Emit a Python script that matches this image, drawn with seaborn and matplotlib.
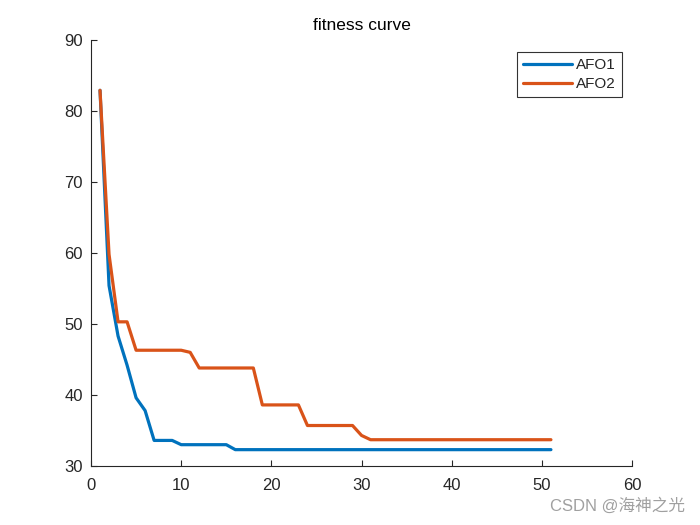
import matplotlib
matplotlib.use("Agg")
import matplotlib.pyplot as plt
import seaborn as sns
import pandas as pd
import numpy as np

iterations = list(range(1, 52))
afo1 = [82.9, 55.4, 48.3, 44.2, 39.6, 37.8, 33.6, 33.6, 33.6, 33.0,
        33.0, 33.0, 33.0, 33.0, 33.0] + [32.3] * 36
afo2 = [82.9, 59.8, 50.3, 50.3, 46.3, 46.3, 46.3, 46.3, 46.3, 46.3,
        46.0, 43.8, 43.8, 43.8, 43.8, 43.8, 43.8, 43.8, 38.6, 38.6,
        38.6, 38.6, 38.6, 35.7, 35.7, 35.7, 35.7, 35.7, 35.7, 34.3] + [33.7] * 21
series_names = ["AFO1", "AFO2"]
colors = ["#0072BD", "#D95319"]
xticks = [0, 10, 20, 30, 40, 50, 60]
yticks = [30, 40, 50, 60, 70, 80, 90]

df = pd.DataFrame({
    "iter": iterations * 2,
    "fitness": afo1 + afo2,
    "algo": [series_names[0]] * len(afo1) + [series_names[1]] * len(afo2),
})

sns.set_style("white")
plt.rcParams["font.family"] = ["Liberation Sans", "DejaVu Sans"]

fig = plt.figure(figsize=(7, 5.25), dpi=100)
ax = fig.add_axes([0.13, 0.1124, 0.773, 0.8116])
sns.lineplot(data=df, x="iter", y="fitness", hue="algo", palette=colors,
             linewidth=2.3, ax=ax, legend=False)

ax.set_xlim(0, 60)
ax.set_ylim(30, 90)
ax.set_xticks(xticks)
ax.set_yticks(yticks)
ax.set_xlabel("")
ax.set_ylabel("")
ax.tick_params(direction="in", length=4, width=0.8, labelsize=12, colors="#262626",
               bottom=True, left=True)
ax.tick_params(axis="x", pad=9)
ax.tick_params(axis="y", pad=6)
for s in ["top", "right"]:
    ax.spines[s].set_visible(False)
for s in ["left", "bottom"]:
    ax.spines[s].set_color("#262626")
    ax.spines[s].set_linewidth(0.8)
ax.set_title("fitness curve", fontsize=12.5, color="#000000", pad=7)

handles = [plt.Line2D([], [], color=c, lw=2.3) for c in colors]
leg = ax.legend(handles, series_names, loc="upper right", bbox_to_anchor=(0.9815, 0.972),
                borderaxespad=0.0,
                fontsize=11, frameon=True, fancybox=False, edgecolor="black",
                handlelength=3.2, borderpad=0.4, labelspacing=0.35, handletextpad=0.3)
leg.get_frame().set_linewidth(0.8)

fig.text(0.979, 0.022, "CSDN @海神之光", ha="right", va="bottom", fontsize=12,
         color="#a0a0a0", family=["Liberation Sans", "Noto Sans CJK SC"])

fig.savefig("out.png", dpi=100)
